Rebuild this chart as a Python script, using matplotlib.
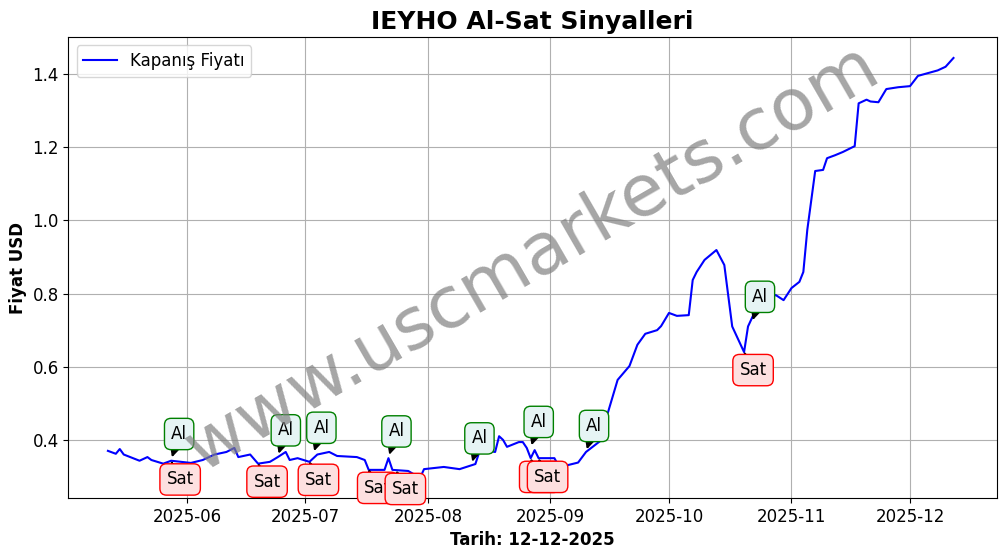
import matplotlib
matplotlib.use("Agg")
import matplotlib.pyplot as plt
import matplotlib.dates as mdates
import pandas as pd

# closing price readings
dates = ["2025-05-12", "2025-05-14", "2025-05-15", "2025-05-16", "2025-05-20", "2025-05-22",
         "2025-05-23", "2025-05-26", "2025-05-28", "2025-06-02", "2025-06-05", "2025-06-08",
         "2025-06-11", "2025-06-13", "2025-06-14", "2025-06-17", "2025-06-19", "2025-06-22",
         "2025-06-24", "2025-06-26", "2025-06-27", "2025-06-29", "2025-07-02", "2025-07-04",
         "2025-07-07", "2025-07-09", "2025-07-14", "2025-07-16", "2025-07-17", "2025-07-21",
         "2025-07-22", "2025-07-23", "2025-07-27", "2025-07-30", "2025-07-31", "2025-08-05",
         "2025-08-09", "2025-08-13", "2025-08-14", "2025-08-16", "2025-08-18", "2025-08-19",
         "2025-08-20", "2025-08-21", "2025-08-24", "2025-08-25", "2025-08-26", "2025-08-27",
         "2025-08-28", "2025-08-29", "2025-09-02", "2025-09-03", "2025-09-05", "2025-09-08",
         "2025-09-10", "2025-09-13", "2025-09-14", "2025-09-15", "2025-09-18", "2025-09-21",
         "2025-09-23", "2025-09-25", "2025-09-28", "2025-09-29", "2025-10-01", "2025-10-03",
         "2025-10-06", "2025-10-07", "2025-10-08", "2025-10-10", "2025-10-13", "2025-10-15",
         "2025-10-17", "2025-10-20", "2025-10-21", "2025-10-24", "2025-10-26", "2025-10-28",
         "2025-10-30", "2025-11-01", "2025-11-03", "2025-11-04", "2025-11-05", "2025-11-07",
         "2025-11-09", "2025-11-10", "2025-11-12", "2025-11-14", "2025-11-17", "2025-11-18",
         "2025-11-20", "2025-11-21", "2025-11-23", "2025-11-25", "2025-11-28", "2025-12-01",
         "2025-12-03", "2025-12-08", "2025-12-10", "2025-12-12"]
prices = [0.370, 0.362, 0.375, 0.360, 0.343, 0.353, 0.345, 0.335, 0.343, 0.337, 0.345, 0.360,
          0.367, 0.378, 0.353, 0.360, 0.335, 0.340, 0.353, 0.367, 0.345, 0.350, 0.340, 0.360,
          0.367, 0.356, 0.353, 0.345, 0.318, 0.318, 0.350, 0.318, 0.315, 0.296, 0.320, 0.326,
          0.320, 0.334, 0.367, 0.370, 0.367, 0.410, 0.400, 0.381, 0.394, 0.394, 0.378, 0.350,
          0.372, 0.350, 0.350, 0.330, 0.330, 0.338, 0.367, 0.392, 0.400, 0.455, 0.564, 0.602,
          0.660, 0.690, 0.700, 0.711, 0.747, 0.739, 0.741, 0.837, 0.859, 0.892, 0.919, 0.878,
          0.710, 0.640, 0.710, 0.780, 0.785, 0.796, 0.782, 0.815, 0.832, 0.859, 0.974, 1.135,
          1.138, 1.170, 1.178, 1.187, 1.203, 1.320, 1.330, 1.325, 1.323, 1.359, 1.364, 1.367,
          1.395, 1.410, 1.420, 1.444]

buy_dates = ["2025-05-28", "2025-06-24", "2025-07-03", "2025-07-22", "2025-08-12",
             "2025-08-27", "2025-09-10", "2025-10-22"]
buy_prices = [0.345, 0.355, 0.362, 0.352, 0.333, 0.378, 0.367, 0.72]
sell_dates = ["2025-05-28", "2025-06-19", "2025-07-02", "2025-07-17", "2025-07-24",
              "2025-08-27", "2025-08-29", "2025-10-20"]
sell_prices = [0.341, 0.335, 0.340, 0.318, 0.315, 0.348, 0.348, 0.640]

dates = pd.to_datetime(dates)
fig, ax = plt.subplots(figsize=(10.06, 5.54), dpi=100)
fig.subplots_adjust(left=0.068, right=0.991, top=0.933, bottom=0.101)

ax.plot(dates, prices, color="blue", lw=1.5, label="Kapanış Fiyatı")

for d, p in zip(pd.to_datetime(buy_dates), buy_prices):
    ax.annotate("Al", xy=(d, p), xytext=(8, 26), textcoords="offset pixels",
                ha="center", va="center", fontsize=12,
                bbox=dict(boxstyle="round,pad=0.4", fc="#e6f4f4", ec="green"),
                arrowprops=dict(arrowstyle="-|>", color="black", lw=1.5))
for d, p in zip(pd.to_datetime(sell_dates), sell_prices):
    ax.annotate("Sat", xy=(d, p), xytext=(9, -18), textcoords="offset pixels",
                ha="center", va="center", fontsize=12,
                bbox=dict(boxstyle="round,pad=0.4", fc="#fde0e0", ec="red"),
                arrowprops=dict(arrowstyle="-|>", color="black", lw=1.5))

ax.text(0.5, 0.52, "www.uscmarkets.com", transform=ax.transAxes, fontsize=52,
        color="gray", alpha=0.7, rotation=30, ha="center", va="center")

ax.set_ylim(0.241, 1.501)
ax.set_xlim(pd.Timestamp("2025-05-02"), pd.Timestamp("2025-12-23"))
ax.xaxis.set_major_locator(mdates.MonthLocator())
ax.xaxis.set_major_formatter(mdates.DateFormatter("%Y-%m"))
ax.tick_params(labelsize=12)
ax.grid(True)
ax.set_title("IEYHO Al-Sat Sinyalleri", fontsize=18, fontweight="bold")
ax.set_xlabel("Tarih: 12-12-2025", fontsize=12, fontweight="bold")
ax.set_ylabel("Fiyat USD", fontsize=12, fontweight="bold")
ax.legend(loc="upper left", fontsize=12)
fig.savefig("out.png")
